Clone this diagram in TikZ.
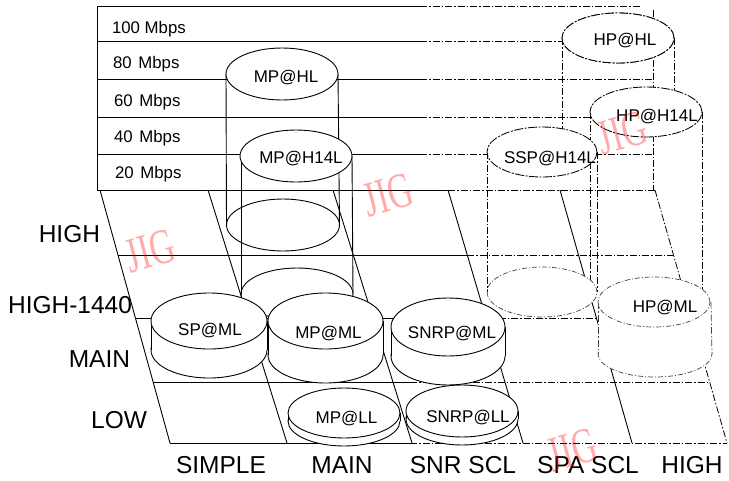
\documentclass[tikz,border=0pt]{standalone}
\usepackage{fontspec}
\setmainfont{Liberation Sans}
\newfontfamily\wmfont[FakeStretch=0.68]{Liberation Serif}
\usetikzlibrary{shapes.geometric}
\begin{document}
\begin{tikzpicture}[x=1pt,y=-1pt,
  every node/.style={inner sep=0pt,outer sep=0pt},
  ln/.style={line width=0.9pt},
  dd/.style={line width=0.8pt,dash pattern=on 7pt off 2pt on 1.5pt off 2pt},
  ell/.style={ellipse,draw,line width=0.9pt,fill=white},
  open/.style={ellipse,draw,line width=0.9pt},
  brk/.style={ellipse,draw,line width=0.85pt,fill=white,dash pattern=on 9pt off 1.5pt on 2pt off 1.5pt},
  ghost/.style={ellipse,draw=black!75,line width=0.7pt,fill=white,dash pattern=on 5pt off 2pt on 1pt off 2pt},
  lbl/.style={font=\fontsize{17}{17}\selectfont,anchor=base},
  axl/.style={font=\fontsize{24.5}{24.5}\selectfont,anchor=base east},
  axb/.style={font=\fontsize{24.5}{24.5}\selectfont,anchor=base},
  mb/.style={font=\fontsize{16.8}{16.8}\selectfont,anchor=base west},
  wm/.style={text=red,text opacity=0.33,font=\wmfont\fontsize{50}{50}\selectfont,rotate=15}
]
\useasboundingbox (0,0) rectangle (729,480);

% ---------- rate chart ----------
\draw[ln] (97,6) -- (420,6);
\draw[dd] (420,6) -- (640,6);
\draw[ln] (97,6) -- (97,190);
\draw[dd] (653,10) -- (653,190);
\foreach \yy in {41,79,117,154}{
  \draw[ln] (97,\yy) -- (420,\yy);
  \draw[dd] (420,\yy) -- (653,\yy);
}
\draw[ln] (97,190) -- (448,190);
\draw[dd] (448,190) -- (655,190);

\node[mb] (r100) at (112,33) {100 Mbps};
\node[mb] (r80) at (113,68) {80\hspace{2pt} Mbps};
\node[mb] (r60) at (114,106) {60\hspace{2pt} Mbps};
\node[mb] (r40) at (114,142) {40\hspace{2pt} Mbps};
\node[mb] (r20) at (115,178) {20\hspace{2pt} Mbps};

% ---------- floor grid ----------
\draw[ln] (100,190) -- (170,443);
\draw[ln] (208,190) -- (287,443);
\draw[ln] (333,190) -- (412,443);
\draw[ln] (448,190) -- (523,443);
\draw[ln] (560,190) -- (632,443);
\draw[dd] (655,190) -- (727,443);
\draw[ln] (118,255) -- (467,255);
\draw[dd] (467,255) -- (673.5,255);
\draw[ln] (135.4,318) -- (486,318);
\draw[dd] (486,318) -- (691.4,318);
\draw[ln] (153,382) -- (410,382);
\draw[dd] (410,382) -- (709.6,382);
\draw[ln] (170,443) -- (410,443);
\draw[dd] (410,443) -- (727,443);

% ---------- MP@HL ----------
\node[open,minimum width=113pt,minimum height=52pt] (mphlb) at (283,225) {};
\draw[ln] (226,74) -- (mphlb.west);
\draw[ln] (338,74) -- (mphlb.east);
\node[ell,minimum width=112pt,minimum height=52pt] (mphl) at (282,74) {};
\node[lbl] (mphlt) at (286,82) {MP@HL};

% ---------- MP@H14L ----------
\node[open,minimum width=112pt,minimum height=52pt] (mph14b) at (297,294) {};
\draw[ln] (241,156) -- (mph14b.west);
\draw[ln] (352,156) -- (mph14b.east);
\node[ell,minimum width=112pt,minimum height=52pt] (mph14) at (296,156) {};
\node[lbl] (mph14t) at (301,163) {MP@H14L};

% ---------- HP@HL ----------
\node[brk,minimum width=112pt,minimum height=50pt] (hphl) at (618,38) {};
\coordinate (hphlL) at (562,150);
\coordinate (hphlR) at (674,112);
\draw[dd] (hphl.west) -- (hphlL);
\draw[dd] (hphl.east) -- (hphlR);
\node[brk,minimum width=112pt,minimum height=50pt] (hphlf) at (618,38) {};
\node[lbl] (hphlt) at (625,45) {HP@HL};

% ---------- HP@H14L ----------
\coordinate (hph14L) at (590,302);
\coordinate (hph14R) at (702,302);
\draw[dd] (590,112) -- (hph14L);
\draw[dd] (702,112) -- (hph14R);
\node[brk,minimum width=112pt,minimum height=50pt] (hph14) at (646,112) {};
\node[lbl] (hph14t) at (657,121) {HP@H14L};

% ---------- SSP@H14L ----------
\node[ghost,minimum width=110pt,minimum height=50pt] (sspb) at (542,292) {};
\draw[dd] (487,152) -- (sspb.west);
\draw[dd] (597,152) -- (sspb.east);
\node[brk,minimum width=110pt,minimum height=50pt] (ssp) at (542,152) {};
\node[lbl] (sspt) at (550,163) {SSP@H14L};

% ---------- HP@ML ----------
\node[ghost,minimum width=114pt,minimum height=46pt] (hpmlb) at (655,354) {};
\fill[white] (598,302) rectangle (712,354);
\draw[dd,draw=black!75,line width=0.7pt] (598,302) -- (hpmlb.west);
\draw[dd,draw=black!75,line width=0.7pt] (711,302) -- (hpmlb.east);
\node[ghost,minimum width=112pt,minimum height=50pt] (hpml) at (654,302) {};
\node[lbl] (hpmlt) at (665,312) {HP@ML};

% ---------- SP@ML ----------
\node[ell,minimum width=116pt,minimum height=56pt] (spmlb) at (209,350) {};
\fill[white] (151,321) rectangle (267,350);
\draw[ln] (151,321) -- (spmlb.west);
\draw[ln] (267,321) -- (spmlb.east);
\node[ell,minimum width=116pt,minimum height=56pt] (spml) at (209,321) {};
\node[lbl] (spmlt) at (210,335) {SP@ML};

% ---------- MP@ML ----------
\node[ell,minimum width=115pt,minimum height=56pt] (mpmlb) at (325.5,355) {};
\fill[white] (268,321) rectangle (383,355);
\draw[ln] (268,321) -- (mpmlb.west);
\draw[ln] (383,321) -- (mpmlb.east);
\node[ell,minimum width=115pt,minimum height=56pt] (mpml) at (325.5,321) {};
\node[lbl] (mpmlt) at (328.5,338) {MP@ML};

% ---------- SNRP@ML ----------
\node[ell,minimum width=114pt,minimum height=58pt] (snmlb) at (448,356) {};
\fill[white] (391,327) rectangle (505,356);
\draw[ln] (391,327) -- (snmlb.west);
\draw[ln] (505,327) -- (snmlb.east);
\node[ell,minimum width=114pt,minimum height=58pt] (snml) at (448,327) {};
\node[lbl] (snmlt) at (452,338) {SNRP@ML};

% ---------- MP@LL ----------
\node[ell,minimum width=112pt,minimum height=50pt] (mpllb) at (344,421) {};
\fill[white] (288,413) rectangle (400,421);
\draw[ln] (288,413) -- (mpllb.west);
\draw[ln] (400,413) -- (mpllb.east);
\node[ell,minimum width=112pt,minimum height=50pt] (mpll) at (344,413) {};
\node[lbl] (mpllt) at (346.5,423) {MP@LL};

% ---------- SNRP@LL ----------
\node[ell,minimum width=112pt,minimum height=52pt] (snllb) at (462,419) {};
\fill[white] (406,411) rectangle (518,419);
\draw[ln] (406,411) -- (snllb.west);
\draw[ln] (518,411) -- (snllb.east);
\node[ell,minimum width=112pt,minimum height=52pt] (snll) at (462,411) {};
\node[lbl] (snllt) at (468,422) {SNRP@LL};

% ---------- axis labels ----------
\node[axl] (lhigh) at (100,242) {HIGH};
\node[axl] (lh1440) at (132,313) {HIGH-1440};
\node[axl] (lmain) at (130,367) {MAIN};
\node[axl] (llow) at (147,428) {LOW};
\node[axb] (csimple) at (221,473) {SIMPLE};
\node[axb] (cmain) at (342,473) {MAIN};
\node[axb] (csnr) at (463,473) {SNR SCL};
\node[axb] (cspa) at (588,473) {SPA SCL};
\node[axb] (chigh) at (692,473) {HIGH};

% ---------- watermarks ----------
\node[wm] (wm1) at (150,251) {JIG};
\node[wm] (wm2) at (388,195) {JIG};
\node[wm] (wm3) at (622,133) {JIG};
\node[wm] (wm4) at (572,450) {JIG};
\end{tikzpicture}
\end{document}
